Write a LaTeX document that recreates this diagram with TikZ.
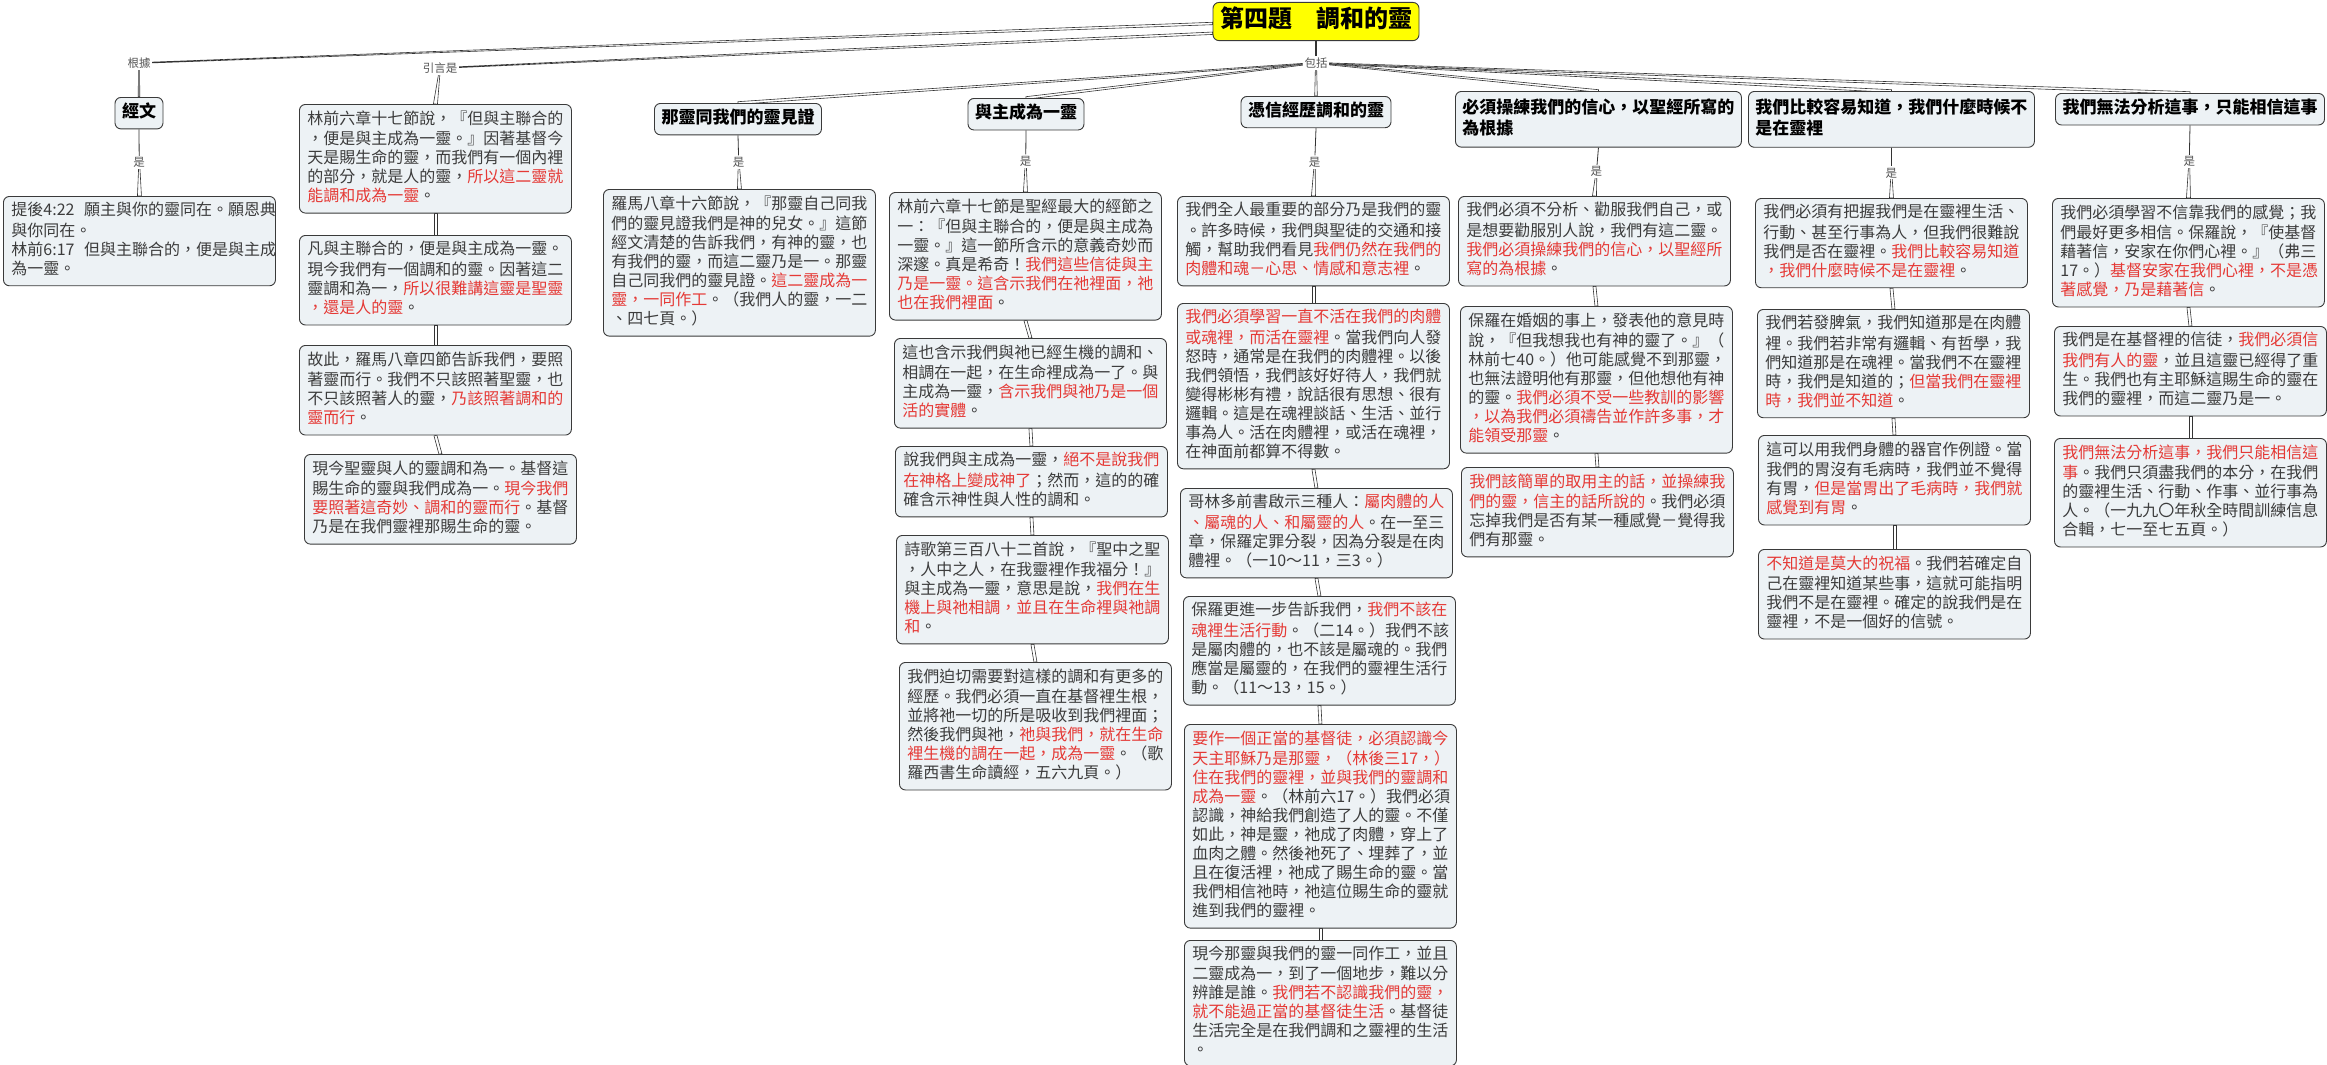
\documentclass[tikz,border=0pt]{standalone}
\usepackage{fontspec}
\setmainfont{Noto Sans CJK TC}
\usetikzlibrary{calc}
\definecolor{boxfill}{HTML}{EDF2F5}
\definecolor{boxline}{HTML}{3A3A3A}
\definecolor{txt}{HTML}{3C3C3C}
\definecolor{hl}{HTML}{E53935}
\definecolor{lbl}{HTML}{555555}
\definecolor{ttlfill}{HTML}{FFFF00}
\newcommand\redt[1]{\textcolor{hl}{#1}}
\newcommand\taper[4]{\draw[conn] ($#1!#3!90:#2$) -- ($#2!#4!-90:#1$) -- ($#2!#4!90:#1$) -- ($#1!#3!-90:#2$) -- cycle;}
\pgfdeclarelayer{bg}
\pgfdeclarelayer{paper}
\pgfsetlayers{paper,bg,main}
\tikzset{
 body/.style={draw=boxline, line width=0.9pt, fill=boxfill, rounded corners=6pt, text width=256pt, align=left, inner xsep=8pt, inner ysep=6pt, anchor=north west, text=txt, font=\fontsize{16pt}{19pt}\selectfont, execute at begin node=\strut, execute at end node=\strut},
 head/.style={draw=boxline, line width=0.9pt, fill=boxfill, rounded corners=6pt, inner xsep=7pt, inner ysep=5.5pt, anchor=north, text=black, font=\fontsize{17pt}{19pt}\selectfont\bfseries, execute at begin node=\strut},
 headtwo/.style={head, text width=272pt, align=left, anchor=north west, inner ysep=7pt, execute at end node=\strut},
 ttl/.style={draw=boxline, line width=0.9pt, fill=ttlfill, rounded corners=6pt, inner xsep=7pt, inner ysep=4.5pt, anchor=north, text=black, font=\fontsize{24pt}{28pt}\selectfont\bfseries, execute at begin node=\strut},
 lab/.style={font=\fontsize{11.5pt}{13pt}\selectfont, text=lbl, inner sep=1.5pt, fill=white},
 conn/.style={draw=black!80, line width=0.6pt, fill=white},
 thinline/.style={draw=black!80, line width=0.8pt},
}
\begin{document}
\begin{tikzpicture}[x=1pt,y=-1pt]
\useasboundingbox (0,0) rectangle (2327,1065);
\begin{pgfonlayer}{paper}
\fill[white] (0,0) rectangle (2327,1065);
\end{pgfonlayer}

% title and top labels
\node[ttl] (t) at (1316,2) {第四題　調和的靈};
\node[lab] (lgj) at (139,63) {根據};
\node[lab] (lyy) at (440,68) {引言是};
\node[lab] (lbk) at (1316,63) {包括};

% headers
\node[head] (h1) at (139,97) {經文};
\node[head] (h3) at (738,103) {那靈同我們的靈見證};
\node[head] (h4) at (1026,98) {與主成為一靈};
\node[head] (h5) at (1316,96) {憑信經歷調和的靈};
\node[headtwo] (h6) at (1455,91) {必須操練我們的信心，以聖經所寫的\\為根據};
\node[headtwo] (h7) at (1748,91) {我們比較容易知道，我們什麼時候不\\是在靈裡};
\node[head] (h8) at (2190,93) {我們無法分析這事，只能相信這事};

% 經文
\node[body] (a1) at (3,196) {提後4:22\kern0.6em 願主與你的靈同在。願恩典\\與你同在。\\林前6:17\kern0.6em 但與主聯合的，便是與主成\\為一靈。};

% 引言
\node[body] (b1) at (299,104) {林前六章十七節說，『但與主聯合的\\，便是與主成為一靈。』因著基督今\\天是賜生命的靈，而我們有一個內裡\\的部分，就是人的靈，\redt{所以這二靈就}\\\redt{能調和成為一靈}。};
\node[body] (b2) at (299,235) {凡與主聯合的，便是與主成為一靈。\\現今我們有一個調和的靈。因著這二\\靈調和為一，\redt{所以很難講這靈是聖靈}\\\redt{，還是人的靈}。};
\node[body] (b3) at (299,345) {故此，羅馬八章四節告訴我們，要照\\著靈而行。我們不只該照著聖靈，也\\不只該照著人的靈，\redt{乃該照著調和的}\\\redt{靈而行}。};
\node[body] (b4) at (304,454) {現今聖靈與人的靈調和為一。基督這\\賜生命的靈與我們成為一。\redt{現今我們}\\\redt{要照著這奇妙、調和的靈而行}。基督\\乃是在我們靈裡那賜生命的靈。};

% 那靈
\node[body] (c1) at (603,189) {羅馬八章十六節說，『那靈自己同我\\們的靈見證我們是神的兒女。』這節\\經文清楚的告訴我們，有神的靈，也\\有我們的靈，而這二靈乃是一。那靈\\自己同我們的靈見證。\redt{這二靈成為一}\\\redt{靈，一同作工}。（我們人的靈，一二\\、四七頁。）};

% 與主
\node[body] (d1) at (889,192) {林前六章十七節是聖經最大的經節之\\一：『但與主聯合的，便是與主成為\\一靈。』這一節所含示的意義奇妙而\\深邃。真是希奇！\redt{我們這些信徒與主}\\\redt{乃是一靈。這含示我們在祂裡面，祂}\\\redt{也在我們裡面}。};
\node[body] (d2) at (894,338) {這也含示我們與祂已經生機的調和、\\相調在一起，在生命裡成為一了。與\\主成為一靈，\redt{含示我們與祂乃是一個}\\\redt{活的實體}。};
\node[body] (d3) at (895,446) {說我們與主成為一靈，\redt{絕不是說我們}\\\redt{在神格上變成神了}；然而，這的的確\\確含示神性與人性的調和。};
\node[body] (d4) at (896,535) {詩歌第三百八十二首說，『聖中之聖\\，人中之人，在我靈裡作我福分！』\\與主成為一靈，意思是說，\redt{我們在生}\\\redt{機上與祂相調，並且在生命裡與祂調}\\\redt{和}。};
\node[body] (d5) at (899,662) {我們迫切需要對這樣的調和有更多的\\經歷。我們必須一直在基督裡生根，\\並將祂一切的所是吸收到我們裡面；\\然後我們與祂，\redt{祂與我們，就在生命}\\\redt{裡生機的調在一起，成為一靈}。（歌\\羅西書生命讀經，五六九頁。）};

% 憑信
\node[body] (e1) at (1177,196) {我們全人最重要的部分乃是我們的靈\\。許多時候，我們與聖徒的交通和接\\觸，幫助我們看見\redt{我們仍然在我們的}\\\redt{肉體和魂－心思、情感和意志裡}。};
\node[body] (e2) at (1177,303) {\redt{我們必須學習一直不活在我們的肉體}\\\redt{或魂裡，而活在靈裡}。當我們向人發\\怒時，通常是在我們的肉體裡。以後\\我們領悟，我們該好好待人，我們就\\變得彬彬有禮，說話很有思想、很有\\邏輯。這是在魂裡談話、生活、並行\\事為人。活在肉體裡，或活在魂裡，\\在神面前都算不得數。};
\node[body] (e3) at (1180,488) {哥林多前書啟示三種人：\redt{屬肉體的人}\\\redt{、屬魂的人、和屬靈的人}。在一至三\\章，保羅定罪分裂，因為分裂是在肉\\體裡。（一10～11，三3。）};
\node[body] (e4) at (1183,596) {保羅更進一步告訴我們，\redt{我們不該在}\\\redt{魂裡生活行動}。（二14。）我們不該\\是屬肉體的，也不該是屬魂的。我們\\應當是屬靈的，在我們的靈裡生活行\\動。（11～13，15。）};
\node[body] (e5) at (1184,724) {\redt{要作一個正當的基督徒，必須認識今}\\\redt{天主耶穌乃是那靈，（林後三17，）}\\\redt{住在我們的靈裡，並與我們的靈調和}\\\redt{成為一靈}。（林前六17。）我們必須\\認識，神給我們創造了人的靈。不僅\\如此，神是靈，祂成了肉體，穿上了\\血肉之體。然後祂死了、埋葬了，並\\且在復活裡，祂成了賜生命的靈。當\\我們相信祂時，祂這位賜生命的靈就\\進到我們的靈裡。};
\node[body, inner ysep=5pt] (e6) at (1184,940) {現今那靈與我們的靈一同作工，並且\\二靈成為一，到了一個地步，難以分\\辨誰是誰。\redt{我們若不認識我們的靈，}\\\redt{就不能過正當的基督徒生活}。基督徒\\生活完全是在我們調和之靈裡的生活\\。};

% 必須
\node[body] (f1) at (1458,196) {我們必須不分析、勸服我們自己，或\\是想要勸服別人說，我們有這二靈。\\\redt{我們必須操練我們的信心，以聖經所}\\\redt{寫的為根據}。};
\node[body] (f2) at (1460,306) {保羅在婚姻的事上，發表他的意見時\\說，『但我想我也有神的靈了。』（\\林前七40。）他可能感覺不到那靈，\\也無法證明他有那靈，但他想他有神\\的靈。\redt{我們必須不受一些教訓的影響}\\\redt{，以為我們必須禱告並作許多事，才}\\\redt{能領受那靈}。};
\node[body] (f3) at (1461,467) {\redt{我們該簡單的取用主的話，並操練我}\\\redt{們的靈，信主的話所說的}。我們必須\\忘掉我們是否有某一種感覺－覺得我\\們有那靈。};

% 比較
\node[body] (g1) at (1755,198) {我們必須有把握我們是在靈裡生活、\\行動、甚至行事為人，但我們很難說\\我們是否在靈裡。\redt{我們比較容易知道}\\\redt{，我們什麼時候不是在靈裡}。};
\node[body] (g2) at (1757,309) {我們若發脾氣，我們知道那是在肉體\\裡。我們若非常有邏輯、有哲學，我\\們知道那是在魂裡。當我們不在靈裡\\時，我們是知道的；\redt{但當我們在靈裡}\\\redt{時，我們並不知道}。};
\node[body] (g3) at (1758,435) {這可以用我們身體的器官作例證。當\\我們的胃沒有毛病時，我們並不覺得\\有胃，\redt{但是當胃出了毛病時，我們就}\\\redt{感覺到有胃}。};
\node[body] (g4) at (1758,549) {\redt{不知道是莫大的祝福}。我們若確定自\\己在靈裡知道某些事，這就可能指明\\我們不是在靈裡。確定的說我們是在\\靈裡，不是一個好的信號。};

% 無法
\node[body] (k1) at (2052,198) {我們必須學習不信靠我們的感覺；我\\們最好更多相信。保羅說，『使基督\\藉著信，安家在你們心裡。』（弗三\\17。）\redt{基督安家在我們心裡，不是憑}\\\redt{著感覺，乃是藉著信}。};
\node[body] (k2) at (2054,326) {我們是在基督裡的信徒，\redt{我們必須信}\\\redt{我們有人的靈}，並且這靈已經得了重\\生。我們也有主耶穌這賜生命的靈在\\我們的靈裡，而這二靈乃是一。};
\node[body] (k3) at (2054,438) {\redt{我們無法分析這事，我們只能相信這}\\\redt{事}。我們只須盡我們的本分，在我們\\的靈裡生活、行動、作事、並行事為\\人。（一九九〇年秋全時間訓練信息\\合輯，七一至七五頁。）};

% "是" labels
\node[lab] (s1) at ($(h1.south)!0.5!(a1.north)$) {是};
\node[lab] (s3) at ($(h3.south)!0.5!(c1.north)$) {是};
\node[lab] (s4) at ($(h4.south)!0.5!(d1.north)$) {是};
\node[lab] (s5) at ($(h5.south)!0.5!(e1.north)$) {是};
\node[lab] (s6) at ($(h6.south)!0.5!(f1.north)$) {是};
\node[lab] (s7) at ($(h7.south)!0.5!(g1.north)$) {是};
\node[lab] (s8) at ($(h8.south)!0.5!(k1.north)$) {是};

\coordinate (tw1) at ($(t.north west)!0.55!(t.south west)$);
\coordinate (tw2) at ($(t.north west)!0.8!(t.south west)$);

\begin{pgfonlayer}{bg}
\taper{(tw1)}{(lgj)}{1.2pt}{0.4pt}
\taper{(tw2)}{(lyy)}{1.2pt}{0.4pt}
\taper{(t.south)}{(lbk)}{0.6pt}{0.6pt}
\foreach \h in {h3,h4,h5,h6,h7,h8}{\taper{(lbk)}{(\h.north)}{0.5pt}{1.3pt}}
\taper{(lgj)}{(h1.north)}{0.5pt}{0.8pt}
\taper{(lyy)}{(b1.north)}{0.4pt}{2pt}
\foreach \h/\s/\b in {h1/s1/a1,h3/s3/c1,h4/s4/d1,h5/s5/e1,h6/s6/f1,h7/s7/g1,h8/s8/k1}{
  \draw[thinline] (\h.south) -- (\s);
  \taper{(\s)}{(\b.north)}{0.4pt}{2pt}
}
\foreach \u/\v in {b1/b2,b2/b3,b3/b4,d1/d2,d2/d3,d3/d4,d4/d5,e1/e2,e2/e3,e3/e4,e4/e5,e5/e6,f1/f2,f2/f3,g1/g2,g2/g3,g3/g4,k1/k2,k2/k3}{
  \taper{(\u.south)}{(\v.north)}{1.5pt}{1.5pt}
}
\end{pgfonlayer}
\end{tikzpicture}
\end{document}
